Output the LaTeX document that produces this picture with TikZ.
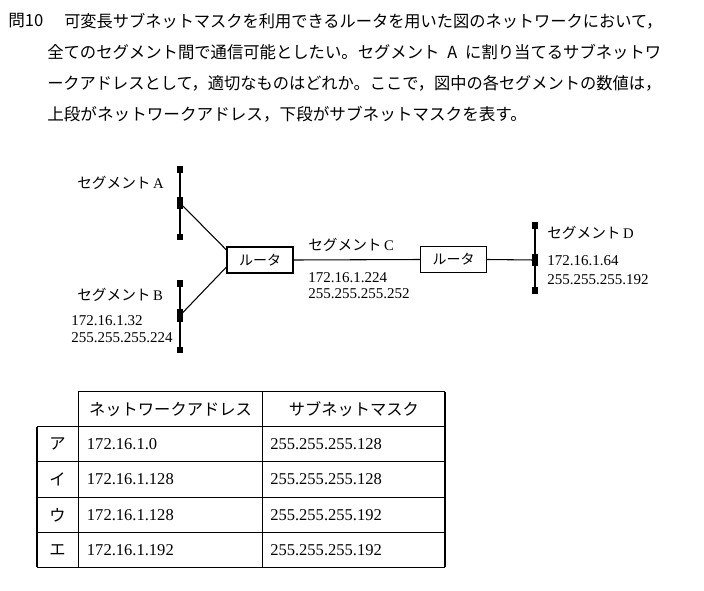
\documentclass[tikz,border=0pt]{standalone}
\usepackage{fontspec}
\usepackage{graphicx}
\setmainfont{Liberation Serif}
\newfontfamily\jp{Noto Sans CJK JP}
\usetikzlibrary{calc}
\begin{document}
\begin{tikzpicture}[x=0.75pt,y=-0.75pt,
  body/.style={anchor=west,inner sep=0pt,font=\jp\fontsize{12.45pt}{15pt}\selectfont},
  lbl/.style={anchor=west,inner sep=0pt,font=\fontsize{11pt}{13pt}\selectfont},
  num/.style={anchor=west,inner sep=0pt,font=\fontsize{11.25pt}{13pt}\selectfont},
  tnum/.style={anchor=west,inner sep=0pt,font=\fontsize{12.4pt}{14pt}\selectfont},
  thead/.style={inner sep=0pt,font=\jp\fontsize{12.2pt}{14pt}\selectfont},
  router/.style={draw,line width=0.8pt,minimum width=49.5pt,minimum height=19.5pt,inner sep=0pt,font=\jp\fontsize{10.5pt}{12pt}\selectfont},
  sq/.style={fill=black,minimum width=5pt,minimum height=5pt,inner sep=0pt},
  midsq/.style={fill=black,minimum width=5pt,minimum height=9.5pt,inner sep=0pt},
  bar/.style={line width=1.9pt},
  wire/.style={line width=0.8pt},
  grid/.style={line width=0.8pt}]
\useasboundingbox (0,0) rectangle (704,590);
\fill[white] (0,0) rectangle (704,590);

% question text
\node[body] (q0) at (8,21) {問10};
\node[body] (q1) at (64,21) {\resizebox{448.5pt}{\height}{可変長サブネットマスクを利用できるルータを用いた図のネットワークにおいて，}};
\node[body] (q2) at (47,52) {\resizebox{460.5pt}{\height}{全てのセグメント間で通信可能としたい。セグメント\hspace{6pt}A\hspace{6pt}に割り当てるサブネットワ}};
\node[body] (q3) at (47,83) {\resizebox{460.5pt}{\height}{ークアドレスとして，適切なものはどれか。ここで，図中の各セグメントの数値は，}};
\node[body] (q4) at (47,114) {上段がネットワークアドレス，下段がサブネットマスクを表す。};

% segment A
\node[sq] (a1) at (180,169.5) {};
\node[midsq] (a2) at (180,203) {};
\node[sq] (a3) at (180,237) {};
\draw[bar] (a1.center) -- (a3.center);
\node[lbl] (la) at (77,183) {{\jp セグメント}\,A};

% segment B
\node[sq] (b1) at (180,283.5) {};
\node[midsq] (b2) at (180,315.5) {};
\node[sq] (b3) at (180,350) {};
\draw[bar] (b1.center) -- (b3.center);
\node[lbl] (lb) at (77,295) {{\jp セグメント}\,B};
\node[num] (nb1) at (71,321) {172.16.1.32};
\node[num] (nb2) at (71,338) {255.255.255.224};

% routers
\node[router] (r1) at (260,260) {ルータ};
\node[router] (r2) at (453.5,259.5) {ルータ};
\coordinate (r1a) at ($(r1.west)+(0,-10)$);
\coordinate (r1b) at ($(r1.west)+(0,7)$);
\draw[wire] (a2.center) -- (r1a);
\draw[wire] (b2.center) -- (r1b);
\draw[wire] (r1.east) -- (r2.west);

% segment C labels
\node[lbl] (lc) at (308,245) {{\jp セグメント}\,C};
\node[num] (nc1) at (308,278) {172.16.1.224};
\node[num] (nc2) at (308,294) {255.255.255.252};

% segment D
\node[sq] (d1) at (535,225.5) {};
\node[midsq] (d2) at (535,260) {};
\node[sq] (d3) at (535,290.5) {};
\draw[bar] (d1.center) -- (d3.center);
\draw[wire] (r2.east) -- (d2.center);
\node[lbl] (ld) at (547,233) {{\jp セグメント}\,D};
\node[num] (nd1) at (547,261) {172.16.1.64};
\node[num] (nd2) at (547,280) {255.255.255.192};

% table
\draw[grid] (78.3,391.7) -- (445,391.7);
\foreach \yy in {426.7,461.7,497.3,532.7,567.3} \draw[grid] (37,\yy) -- (445,\yy);
\draw[grid] (37,426.7) -- (37,567.3);
\draw[grid] (78.3,391.7) -- (78.3,567.3);
\draw[grid] (262.7,391.7) -- (262.7,567.3);
\draw[grid] (445,391.7) -- (445,567.3);

\node[thead] (h1) at (170.5,409.2) {ネットワークアドレス};
\node[thead] (h2) at (353.9,409.2) {サブネットマスク};

\node[thead] (k1) at (57.6,444.2) {ア};
\node[thead] (k2) at (57.6,479.5) {イ};
\node[thead] (k3) at (57.6,515) {ウ};
\node[thead] (k4) at (57.6,550) {エ};

\node[tnum] (t11) at (86.7,444.2) {172.16.1.0};
\node[tnum] (t12) at (270,444.2) {255.255.255.128};
\node[tnum] (t21) at (86.7,479.5) {172.16.1.128};
\node[tnum] (t22) at (270,479.5) {255.255.255.128};
\node[tnum] (t31) at (86.7,515) {172.16.1.128};
\node[tnum] (t32) at (270,515) {255.255.255.192};
\node[tnum] (t41) at (86.7,550) {172.16.1.192};
\node[tnum] (t42) at (270,550) {255.255.255.192};
\end{tikzpicture}
\end{document}
